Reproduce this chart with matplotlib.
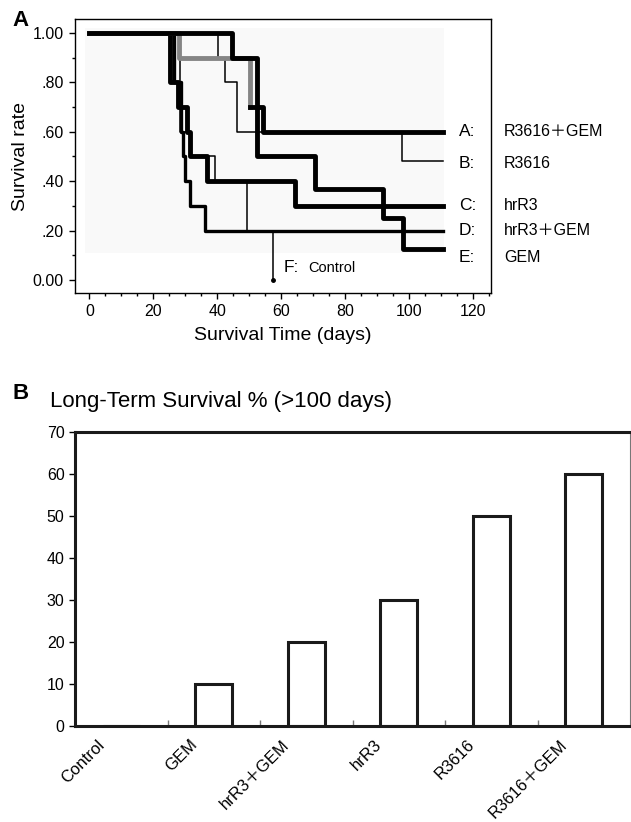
import matplotlib.pyplot as plt
import matplotlib.transforms as mtransforms
from matplotlib.ticker import MultipleLocator, FixedLocator
from matplotlib.patches import Rectangle

plt.rcParams['font.family'] = ['Liberation Sans', 'Noto Sans CJK JP']

# Panel A: Kaplan-Meier style step curves (days, survival rate)
a_days = [0, 44.7, 52.3, 54.4, 110.5]
a_surv = [1.0, 0.9, 0.7, 0.6, 0.6]
b_days = [0, 40.3, 42.4, 46.3, 97.8, 110.5]
b_surv = [1.0, 0.9, 0.8, 0.6, 0.48, 0.48]
c_days = [0, 25.2, 27.8, 30.4, 31.4, 36.7, 64.3, 110.5]
c_surv = [1.0, 0.8, 0.7, 0.6, 0.5, 0.4, 0.3, 0.3]
d_days = [0, 26.5, 28.5, 29.4, 29.9, 31.4, 36.2, 110.5]
d_surv = [1.0, 0.8, 0.6, 0.5, 0.4, 0.3, 0.2, 0.2]
e_days = [0, 28.0, 50.2, 52.3, 70.5, 91.9, 98.1, 110.5]
e_surv = [1.0, 0.9, 0.7, 0.5, 0.37, 0.25, 0.125, 0.125]
f_days = [0, 28.3, 31.4, 39.3, 49.2, 57.5]
f_surv = [1.0, 0.6, 0.5, 0.4, 0.2, 0.0]

curve_labels = ["A:", "B:", "C:", "D:", "E:"]
curve_names = ["R3616\uff0bGEM", "R3616", "hrR3", "hrR3\uff0bGEM", "GEM"]
label_y = [0.60, 0.47, 0.30, 0.20, 0.09]

# Panel B: long-term survival
groups = ["Control", "GEM", "hrR3\uff0bGEM", "hrR3", "R3616", "R3616\uff0bGEM"]
long_term = [0, 10, 20, 30, 50, 60]

fig = plt.figure(figsize=(6.31, 8.22), dpi=100)

# ---------- panel A ----------
axA = fig.add_axes([0.1189, 0.6436, 0.6588, 0.3327])
axA.add_patch(Rectangle((-1.3, 0.11), 112.3, 0.91, color='#f9f9f9', zorder=0, lw=0))

axA.step(f_days, f_surv, where='post', color='black', lw=1.1)
axA.plot(f_days[-1], f_surv[-1], 'o', color='black', ms=2.5)
axA.step(b_days, b_surv, where='post', color='black', lw=1.1)
axA.step(d_days, d_surv, where='post', color='black', lw=2.4)
axA.step(c_days, c_surv, where='post', color='black', lw=3.5)
axA.step(e_days[:3], e_surv[:3], where='post', color='#858585', lw=3.5)
axA.step(e_days[2:], e_surv[2:], where='post', color='black', lw=3.5)
axA.step(a_days, a_surv, where='post', color='black', lw=3.5)

axA.set_xlim(-4.5, 125.5)
axA.set_ylim(-0.053, 1.055)
axA.xaxis.set_major_locator(MultipleLocator(20))
axA.xaxis.set_minor_locator(MultipleLocator(5))
axA.yaxis.set_minor_locator(MultipleLocator(0.1))
axA.set_yticks([0, 0.2, 0.4, 0.6, 0.8, 1.0])
axA.set_yticklabels(["0.00", ".20", ".40", ".60", ".80", "1.00"])
axA.tick_params(which='major', direction='out', length=4.5, width=1, labelsize=11.5)
axA.tick_params(which='minor', direction='out', length=2.5, width=1)
for s in axA.spines.values():
    s.set_linewidth(1.0)
axA.set_xlabel("Survival Time (days)", fontsize=14, labelpad=6)
axA.set_ylabel("Survival rate", fontsize=14, labelpad=3)

for lab, name, y in zip(curve_labels, curve_names, label_y):
    axA.text(115.5, y, lab, fontsize=12.5, va='center', ha='left')
    axA.text(129.6, y, name, fontsize=11.5, va='center', ha='left', clip_on=False)
axA.text(60.6, 0.05, "F:", fontsize=12.5, va='center', ha='left')
axA.text(68.5, 0.05, "Control", fontsize=10.5, va='center', ha='left')

fig.text(12 / 631, 1 - 20 / 822, "A", fontsize=16, fontweight='bold', va='center', ha='left')

# ---------- panel B ----------
axB = fig.add_axes([0.1189, 0.1171, 0.8796, 0.3577])
xpos = list(range(len(groups)))
axB.bar(xpos, long_term, width=0.4, color='white', edgecolor='#1a1a1a', linewidth=2.2, zorder=2)
axB.set_xlim(-0.5, len(groups) - 0.5)
axB.set_ylim(0, 70)
axB.yaxis.set_major_locator(MultipleLocator(10))
axB.set_xticks(xpos)
axB.set_xticklabels(groups, rotation=45, ha='right', fontsize=12)
axB.xaxis.set_minor_locator(FixedLocator([i + 0.5 for i in range(len(groups) - 1)]))
axB.tick_params(axis='x', which='major', length=0, pad=8)
axB.tick_params(axis='x', which='minor', direction='in', length=4, width=1, color='#777777')
axB.tick_params(axis='y', direction='out', length=4.5, width=1, labelsize=11.5, pad=3)
for side in ['left', 'bottom', 'top']:
    axB.spines[side].set_linewidth(2.2)
    axB.spines[side].set_color('#1a1a1a')
axB.spines['right'].set_linewidth(0.8)
axB.spines['right'].set_color('#777777')
offset = mtransforms.ScaledTranslation(-10 / 72, 0, fig.dpi_scale_trans)
for lbl in axB.get_xticklabels():
    lbl.set_transform(lbl.get_transform() + offset)

fig.text(12 / 631, 1 - 393 / 822, "B", fontsize=16, fontweight='bold', va='center', ha='left')
fig.text(50 / 631, 1 - 402 / 822, "Long-Term Survival % (>100 days)", fontsize=16, va='center', ha='left')

fig.savefig("out.png", dpi=100)
